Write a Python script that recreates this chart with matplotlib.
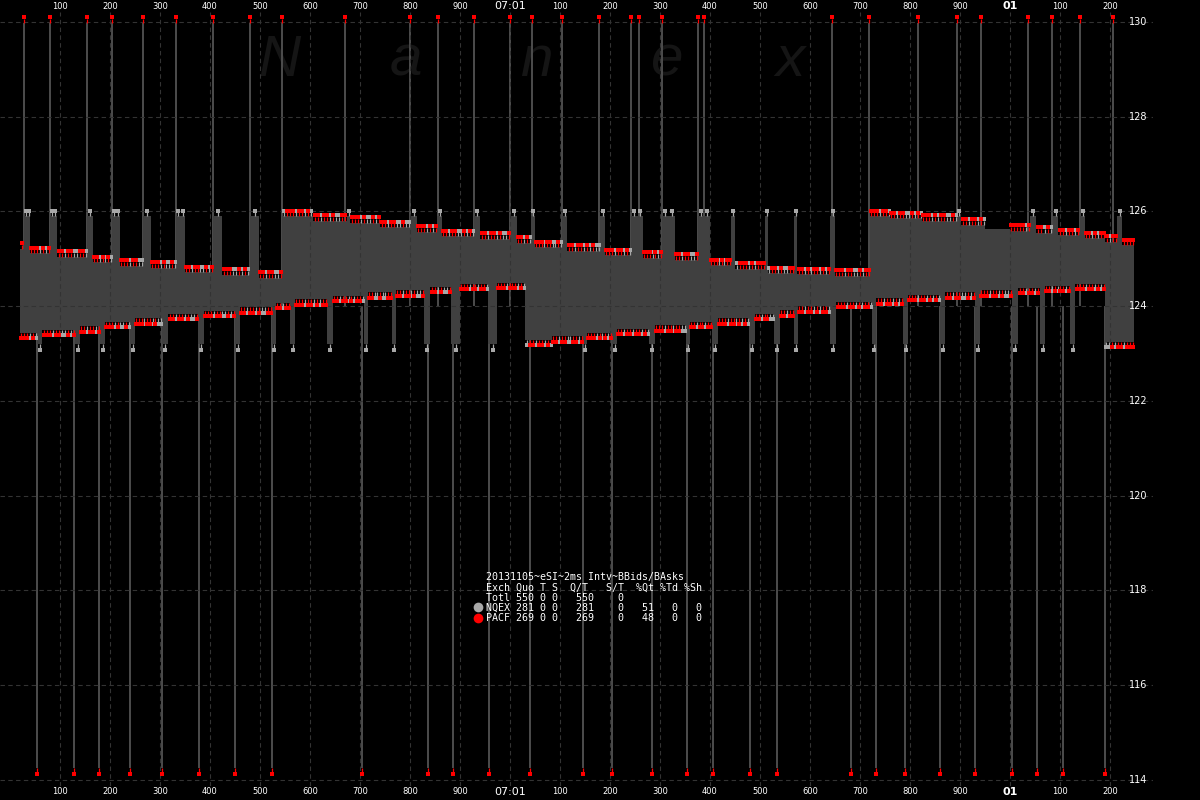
import numpy as np
import matplotlib
matplotlib.use('Agg')
import matplotlib.pyplot as plt
from matplotlib.transforms import offset_copy
from matplotlib.lines import Line2D

plt.rcParams['savefig.bbox'] = 'standard'

# times are ms after 07:00:00.000, prices in dollars
# best ask steps: start time, level, quotes on that step (R = PACF, G = NQEX)
ask_t = [20, 28, 40, 80, 94, 154, 166, 204, 220, 266, 282, 332, 350, 406, 424, 480, 498,
         544, 606, 674, 680, 740, 800, 814, 854, 864, 928, 940, 1000, 1014, 1042, 1050,
         1104, 1114, 1180, 1190, 1242, 1266, 1304, 1330, 1376, 1400, 1442, 1450, 1510,
         1516, 1568, 1574, 1640, 1650, 1720, 1760, 1824, 1894, 1902, 1950, 2000, 2040,
         2052, 2086, 2096, 2140, 2150, 2190, 2214, 2224]
ask_px = [125.21, 125.90, 125.12, 125.90, 125.04, 125.90, 124.93, 125.90, 124.85, 125.90,
          124.81, 125.90, 124.72, 125.90, 124.66, 125.90, 124.60, 125.90, 125.80, 125.90,
          125.76, 125.67, 125.90, 125.57, 125.90, 125.48, 125.90, 125.42, 125.90, 125.34,
          125.90, 125.25, 125.90, 125.17, 125.90, 125.08, 125.90, 125.02, 125.90, 124.98,
          125.90, 124.87, 125.90, 124.79, 125.90, 124.70, 125.90, 124.68, 125.90, 124.64,
          125.90, 125.86, 125.80, 125.90, 125.72, 125.63, 125.59, 125.90, 125.55, 125.90,
          125.50, 125.90, 125.44, 125.36, 125.90, 125.29]
ask_marks = ["R", "GG", "RRRGRGR", "GG", "RRGRRGGRRG", "G", "RRGRGRG", "GG", "RRRGRRGG", "G",
             "RRRGRGGRG", "GG", "RRGRRGGRGR", "G", "RRRGGRGRG", "G", "RRGRRGGR", "GRRRGRRGRG",
             "RRGRRGRGGRR", "G", "RRRGRGGRGR", "RRGRRGGRGG", "G", "RRRGRGR", "G", "RRGRRGGRGRG",
             "G", "RRGRRGRGGR", "G", "RRGRG", "G", "RRRGRRGGRG", "G", "RRGRRGRGRGG", "G",
             "RRRGRRGRG", "GG", "RRRGRGR", "GG", "RRGRRGGR", "GG", "RRRGRGRR", "G", "GRRRGRGRRR",
             "G", "GRRGRGGRR", "G", "RRGRGRRGRGR", "G", "RRRGRRGGRGRR", "RRRGRRG", "RRGRRGGRGRG",
             "RRRGRGRRGGRG", "G", "RRGRRGRG", "", "RRRRRGR", "G", "RRGRG", "G", "RRGRRGR", "G",
             "RRGRGRR", "RGRR", "G", "RRRR"]

# best bid steps
bid_t = [20, 54, 64, 130, 140, 180, 190, 240, 250, 304, 316, 376, 388, 450, 460, 524, 532,
         560, 570, 634, 646, 708, 716, 764, 772, 828, 840, 882, 900, 956, 974, 1030, 1084,
         1146, 1154, 1204, 1214, 1278, 1290, 1352, 1360, 1404, 1416, 1478, 1490, 1528, 1540,
         1568, 1576, 1640, 1652, 1724, 1732, 1786, 1796, 1860, 1870, 1930, 1940, 2004, 2016,
         2060, 2070, 2120, 2130, 2190]
bid_px = [123.44, 123.20, 123.50, 123.20, 123.58, 123.20, 123.67, 123.20, 123.75, 123.20,
          123.84, 123.20, 123.90, 123.20, 123.98, 123.20, 124.07, 123.20, 124.15, 123.20,
          124.22, 123.20, 124.30, 123.20, 124.34, 123.20, 124.41, 123.20, 124.47, 123.20,
          124.50, 123.29, 123.37, 123.20, 123.44, 123.20, 123.52, 123.20, 123.60, 123.20,
          123.67, 123.20, 123.75, 123.20, 123.84, 123.20, 123.92, 123.20, 124.00, 123.20,
          124.09, 123.20, 124.17, 123.20, 124.24, 123.20, 124.30, 123.20, 124.34, 123.20,
          124.39, 123.20, 124.43, 123.20, 124.47, 123.25]
bid_marks = ["RRRGRG", "G", "RRRGRRGGRGR", "G", "RRGRRGR", "G", "RRRGRGGRG", "G", "RRRGRRGRGG",
             "G", "RRGRRGRGGR", "G", "RRRGRRGGRGR", "G", "RRGRRGRGGRR", "G", "RRGRR", "G",
             "RRRGRRGRGRR", "G", "RRGRRGRGRRG", "G", "RRGGRGGRR", "G", "RRGRRGRGGR", "G",
             "RRGRGGR", "G", "RRRGRRGRRG", "G", "RRRGRRRGRG", "GRRGRRGRG", "RRGRRGGRRGR", "G",
             "RRRGRGRGR", "G", "RRGRRGRRGRG", "G", "RRRGRRGRRGG", "G", "RRGRRGRR", "G",
             "RRRGRRGRGRG", "G", "RRGRRGG", "G", "RRGRR", "G", "RRGRRGRGRRG", "G",
             "RRRGRRGRGRRG", "G", "RRGRRGRGR", "G", "RRRGRRGRGRG", "G", "RRGRRGGRGR", "G",
             "RRRGRRGRGGR", "G", "RRGRRGR", "G", "RRGRGRRGR", "G", "RRRGRRGRGR", "GGRGRRGRRR"]
t_end = 2248

# one-off quotes far away from the market (PACF)
spike_up_t = [28, 80, 154, 204, 266, 332, 406, 480, 544, 670, 800, 856, 928, 1000, 1044,
              1104, 1178, 1242, 1258, 1304, 1376, 1388, 1644, 1718, 1816, 1894, 1942, 2036,
              2084, 2140, 2206]
spike_down_t = [54, 128, 178, 240, 304, 378, 450, 524, 704, 836, 886, 958, 1040, 1146, 1204,
                1284, 1354, 1406, 1480, 1534, 1682, 1732, 1790, 1860, 1930, 2004, 2054, 2106,
                2190]
spike_up_px = 129.98
spike_down_px = 114.25

x_ticks = list(range(100, 2300, 100))
x_labels = ['100', '200', '300', '400', '500', '600', '700', '800', '900', '07:01',
            '100', '200', '300', '400', '500', '600', '700', '800', '900', '01', '100', '200']
y_ticks = [114, 116, 118, 120, 122, 124, 126, 128, 130]

legend_lines = ["20131105~eSI~2ms Intv~BBids/BAsks",
                "Exch Quo T S  Q/T   S/T  %Qt %Td %Sh",
                "Totl 550 0 0   550    0",
                "NQEX 281 0 0   281    0   51   0   0",
                "PACF 269 0 0   269    0   48   0   0"]

RED = '#ff0000'
GRAY = '#a8a8a8'
FILL = '#404040'

fig = plt.figure(figsize=(12, 8), dpi=100, facecolor='black')
ax = fig.add_axes([0, 14 / 800, 1153 / 1200, 774 / 800])
ax.set_facecolor('black')
ax.set_xlim(-20, 2286)
ax.set_ylim(113.873, 130.211)

# spread between best bid and best ask
edges = np.array(sorted(set(ask_t) | set(bid_t) | {t_end}))
hi = np.array(ask_px)[np.searchsorted(ask_t, edges, side='right') - 1]
lo = np.array(bid_px)[np.searchsorted(bid_t, edges, side='right') - 1]
ax.fill_between(edges, lo, hi, step='post', color=FILL, lw=0, zorder=2)

ax.vlines(spike_up_t, 124.0, spike_up_px, colors='#4d4d4d', lw=1.4, zorder=1.5)
ax.vlines(spike_down_t, 124.0, spike_down_px, colors='#4d4d4d', lw=1.4, zorder=1.5)


def draw_quotes(xs, ys, color, side):
    sq = offset_copy(ax.transData, fig=fig, x=0, y=5.5 * side, units='dots')
    leg = offset_copy(ax.transData, fig=fig, x=0, y=2 * side, units='dots')
    ax.plot(xs, ys, ls='none', marker='|', ms=3.2, mew=0.9, color=color, transform=leg, zorder=3)
    ax.plot(xs, ys, ls='none', marker='s', ms=3.2, mew=0, color=color, transform=sq, zorder=3)


def step_quotes(starts, prices, marks, side):
    bounds = list(starts) + [t_end]
    pts = {'R': ([], []), 'G': ([], [])}
    for i, s in enumerate(marks):
        w = (bounds[i + 1] - bounds[i]) / max(len(s), 1)
        for j, c in enumerate(s):
            pts[c][0].append(bounds[i] + (j + 0.5) * w)
            pts[c][1].append(prices[i])
    draw_quotes(*pts['G'], GRAY, side)
    draw_quotes(*pts['R'], RED, side)


step_quotes(ask_t, ask_px, ask_marks, 1)
step_quotes(bid_t, bid_px, bid_marks, -1)
draw_quotes(spike_up_t, [spike_up_px] * len(spike_up_t), RED, 1)
draw_quotes(spike_down_t, [spike_down_px] * len(spike_down_t), RED, -1)

# grid / axes
ax.set_xticks(x_ticks)
ax.set_xticklabels(x_labels)
ax.set_yticks(y_ticks)
ax.set_axisbelow(False)
ax.grid(True, color='#333333', ls=(0, (4, 3)), lw=0.8)
ax.tick_params(axis='x', top=True, labeltop=True, bottom=True, labelbottom=True,
               length=0, pad=1, colors='white', labelsize=6)
ax.tick_params(axis='y', length=0, left=False, labelleft=False)
for tk in ax.xaxis.get_major_ticks():
    for lab in (tk.label1, tk.label2):
        if lab.get_text() == '07:01':
            lab.set_fontsize(8)
        elif lab.get_text() == '01':
            lab.set_fontsize(8)
            lab.set_fontweight('bold')
for s in ax.spines.values():
    s.set_visible(False)

# price labels on the right, y taken from the price scale
to_fig = fig.transFigure.inverted()
for yt in y_ticks:
    yf = to_fig.transform(ax.transData.transform((0, yt)))[1]
    fig.text(1129 / 1200, yf, str(yt), ha='left', va='center', fontsize=7, color='white')

# watermark
for letter, xp in zip("Nanex", [258, 390, 520, 650, 775]):
    ax.text(xp / 1153, (786 - 76) / 774, letter, transform=ax.transAxes, fontsize=42,
            style='italic', family='Liberation Sans', color='#151515', zorder=0.5)

# stats block
for i, line in enumerate(legend_lines):
    fig.text(486 / 1200, 1 - (577 + i * 10.3) / 800, line, family='DejaVu Sans Mono',
             fontsize=7.2, color='white', va='center', ha='left')
fig.add_artist(Line2D([478 / 1200], [1 - 607 / 800], marker='o', ms=7, mew=0, color=GRAY))
fig.add_artist(Line2D([478 / 1200], [1 - 618 / 800], marker='o', ms=7, mew=0, color=RED))

fig.savefig('out.png', dpi=100, facecolor='black')
